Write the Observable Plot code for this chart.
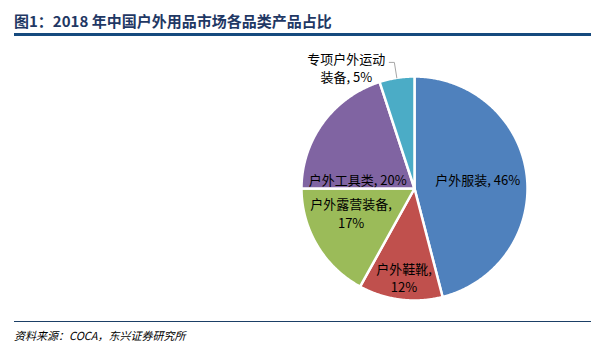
<!DOCTYPE html>
<html><head><meta charset="utf-8">
<script src="https://cdn.jsdelivr.net/npm/d3@7"></script>
<script src="https://cdn.jsdelivr.net/npm/@observablehq/plot@0.6"></script>
<style>
body{margin:0;background:#fff;font-family:"Noto Sans CJK SC",sans-serif;}
#wrap{position:relative;width:592px;height:359px;overflow:hidden;background:#fff}
#title{position:absolute;left:14px;top:11px;font-size:15px;font-weight:bold;color:#1F3864;line-height:20px;white-space:nowrap}
#tline{position:absolute;left:14px;top:33px;width:577px;height:2.5px;background:#164A7E}
#chart{position:absolute;left:0;top:36px}
#fline{position:absolute;left:14px;top:320.5px;width:577px;height:1.2px;background:#1B3F66}
#source{position:absolute;left:14px;top:327px;font-size:11px;font-style:italic;color:#000;line-height:16px;white-space:nowrap}
</style></head><body>
<div id="wrap">
<div id="title"></div>
<div id="tline"></div>
<div id="chart"></div>
<div id="fline"></div>
<div id="source"></div>
</div>
<script>
const titleText = "图1：2018 年中国户外用品市场各品类产品占比";
const sourceText = "资料来源：COCA，东兴证券研究所";
const categories = ["户外服装","户外鞋靴","户外露营装备","户外工具类","专项户外运动装备"];
const shares = [46,12,17,20,5];
const colors = ["#4F81BD","#C0504D","#9BBB59","#8064A2","#4BACC6"];
const labelTexts = ["户外服装, 46%","户外鞋靴,\n12%","户外露营装备,\n17%","户外工具类, 20%","专项户外运动\n装备, 5%"];

document.getElementById("title").textContent = titleText;
document.getElementById("source").textContent = sourceText;

// pie geometry from shares (clockwise from 12 o'clock)
const total = d3.sum(shares);
const slices = [];
let acc = 0;
shares.forEach((v, i) => {
  const a0 = acc / total * 2 * Math.PI;
  acc += v;
  const a1 = acc / total * 2 * Math.PI;
  slices.push({name: categories[i], a0, a1, mid: (a0 + a1) / 2});
});
const pts = [];
for (const s of slices) {
  pts.push({name: s.name, x: 0, y: 0});
  const n = Math.max(2, Math.ceil((s.a1 - s.a0) / (Math.PI / 360)));
  for (let k = 0; k <= n; k++) {
    const a = s.a0 + (s.a1 - s.a0) * k / n;
    pts.push({name: s.name, x: Math.sin(a), y: Math.cos(a)});
  }
}
// inside labels at 0.6 radius of mid angle, with small pixel nudges
const nudges = [[-4,-1],[-2,22],[-5,-10],[-2,30]];
const inLabels = slices.slice(0, 4).map((s, i) => ({
  text: labelTexts[i], x: 0.6 * Math.sin(s.mid), y: 0.6 * Math.cos(s.mid), dx: nudges[i][0], dy: nudges[i][1]
}));
// outside label with leader line for the small slice
const t = slices[4];
const leader = [
  {x: Math.sin(t.mid), y: Math.cos(t.mid)},
  {x: 1.14 * Math.sin(t.mid), y: 1.14 * Math.cos(t.mid)},
  {x: 1.14 * Math.sin(t.mid) - 0.045, y: 1.14 * Math.cos(t.mid)}
];
const outLabel = [{text: labelTexts[4], x: leader[2].x, y: leader[2].y}];

const chart = Plot.plot({
  width: 592, height: 285, margin: 0,
  x: {domain: [-1, 1], range: [301, 527], axis: null},
  y: {domain: [-1, 1], range: [264, 40], axis: null},
  color: {domain: categories, range: colors},
  style: {fontFamily: '"Noto Sans CJK SC", sans-serif', background: "transparent"},
  marks: [
    Plot.line(pts, {x: "x", y: "y", z: "name", fill: "name", stroke: "white", strokeWidth: 2.5, strokeLinejoin: "round", curve: "linear-closed"}),
    Plot.line(leader, {x: "x", y: "y", stroke: "#A6A6A6", strokeWidth: 1}),
    ...inLabels.map(d => Plot.text([d], {x: "x", y: "y", text: "text", fill: "#000", fontSize: 13, lineHeight: 1.4, dx: d.dx, dy: d.dy})),
    Plot.text(outLabel, {x: "x", y: "y", text: "text", fill: "#000", fontSize: 13, lineHeight: 1.4, dx: -43, dy: 5})
  ]
});
document.getElementById("chart").appendChild(chart);
</script>
</body></html>
